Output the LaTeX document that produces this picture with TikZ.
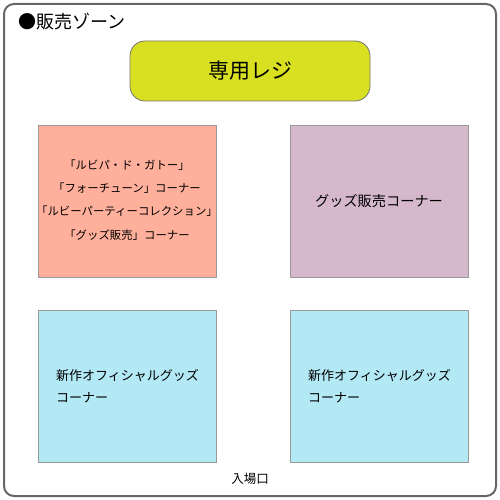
\documentclass[tikz,border=0pt]{standalone}
\usepackage{fontspec}
\setmainfont{Noto Sans CJK JP}
\begin{document}
\begin{tikzpicture}[x=1pt,y=-1pt,
  zone/.style={draw=black!60,line width=2pt,rounded corners=10pt,fill=white},
  corner/.style={draw=black!40,line width=0.8pt,minimum width=178pt,minimum height=152pt,inner sep=0pt},
  reg/.style={draw=black!55,line width=0.8pt,rounded corners=15pt,fill=regc,minimum width=240pt,minimum height=60pt,inner sep=0pt}]
\definecolor{regc}{HTML}{D9E021}
\definecolor{pinkc}{HTML}{FFB09C}
\definecolor{purc}{HTML}{D5B8CC}
\definecolor{bluec}{HTML}{B3E8F5}
\useasboundingbox (0,0) rectangle (500,500);
\draw[zone] (4,4) rectangle (496,496);
\node[anchor=west,font=\fontsize{18}{20}\selectfont,inner sep=0pt] (title) at (18,22) {●販売ゾーン};
\node[reg,font=\fontsize{21}{24}\selectfont] (reg) at (250,71) {専用レジ};
\node[corner,fill=pinkc] (pink) at (127,201) {};
\node[align=center,font=\fontsize{11.4}{23.3}\selectfont,inner sep=0pt] (pinkt) at (127,200) {「ルビパ・ド・ガトー」\\「フォーチューン」コーナー\\「ルビーパーティーコレクション」\\「グッズ販売」コーナー};
\node[corner,fill=purc] (pur) at (379,201) {};
\node[font=\fontsize{14.2}{16}\selectfont,inner sep=0pt] (purt) at (379,201) {グッズ販売コーナー};
\node[corner,fill=bluec] (blue1) at (127,386) {};
\node[corner,fill=bluec] (blue2) at (379,386) {};
\node[align=left,anchor=west,font=\fontsize{13}{22.5}\selectfont,inner sep=0pt] (b1t) at (56,386) {新作オフィシャルグッズ\\コーナー};
\node[align=left,anchor=west,font=\fontsize{13}{22.5}\selectfont,inner sep=0pt] (b2t) at (308,386) {新作オフィシャルグッズ\\コーナー};
\node[font=\fontsize{12.5}{14}\selectfont,inner sep=0pt] (ent) at (250,479) {入場口};
\end{tikzpicture}
\end{document}
